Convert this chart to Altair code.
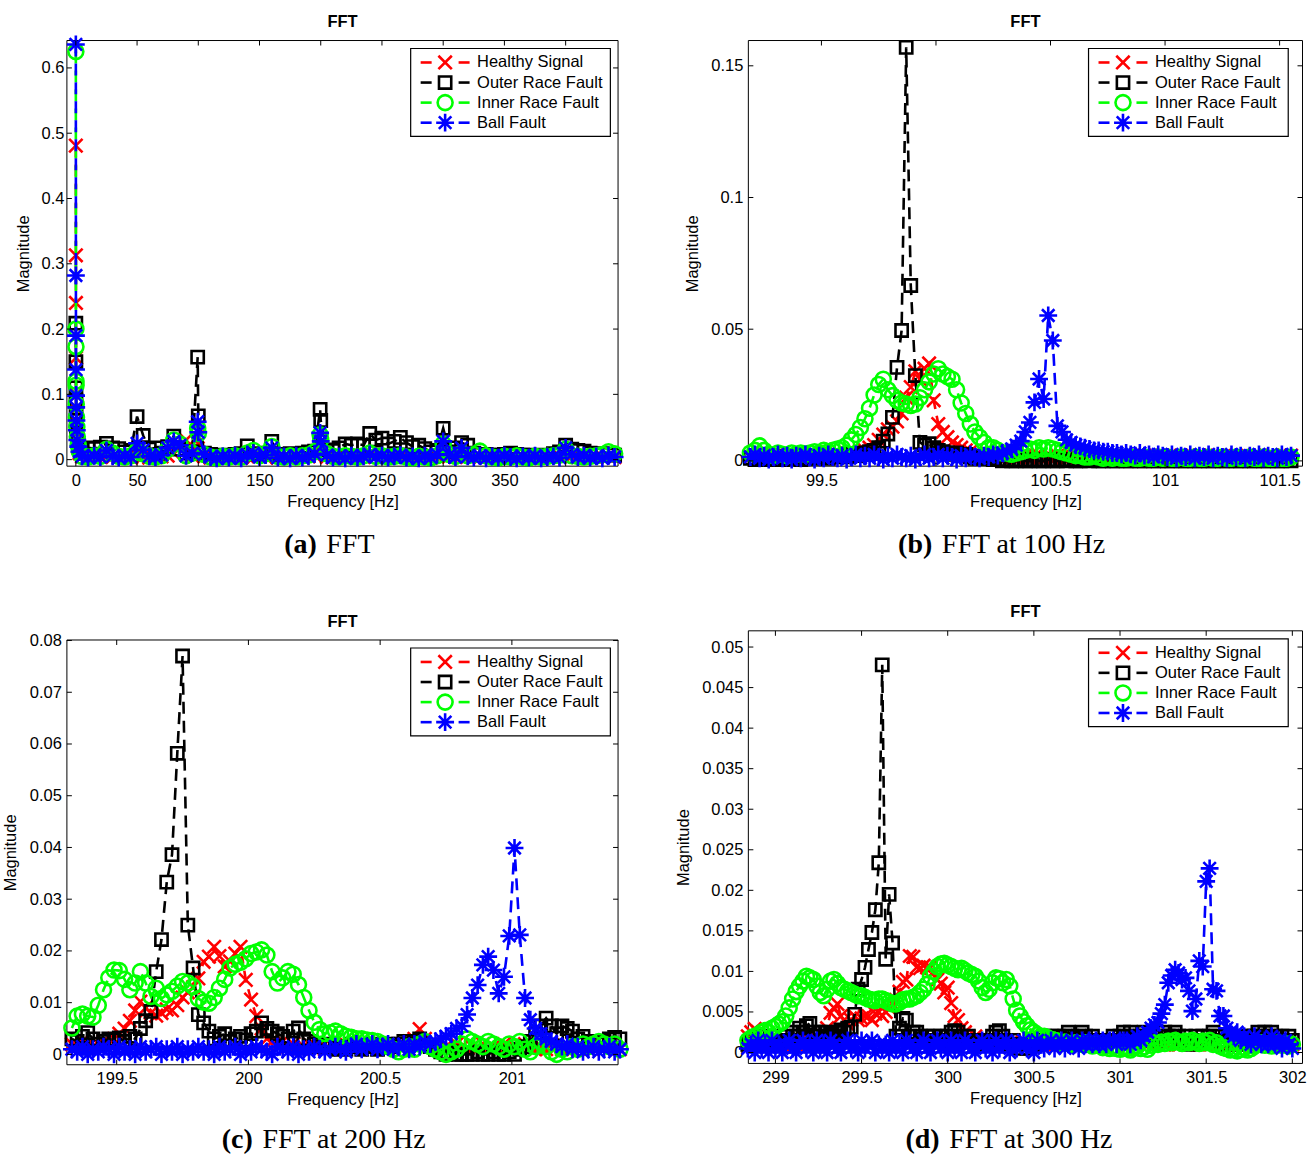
import altair as alt
import pandas as pd

# ---------------- series meta ----------------
SERIES = ["Healthy Signal", "Outer Race Fault", "Inner Race Fault", "Ball Fault"]
COLORS = ["#ff0000", "#000000", "#00ff00", "#0000ff"]
X_PATH = "M-1,-1L1,1M-1,1L1,-1"
STAR_PATH = "M0,-1L0,1M-1,0L1,0M-0.7,-0.7L0.7,0.7M-0.7,0.7L0.7,-0.7"
SHAPES = [X_PATH, "square", "circle", STAR_PATH]
SIZES = [180, 150, 225, 320]

# ---------------- panel (a): full spectrum (magnitudes in thousandths) ----------------
a_freq = [0, 0.05, 0.1, 0.15, 0.2, 0.3, 0.5, 0.8, 1.2, 2, 3,
          5, 10, 15, 20, 25, 30, 35, 40, 45, 50, 55, 60, 65, 70, 75, 80, 85, 90, 95,
          99.5, 100,
          105, 110, 115, 120, 125, 130, 135, 140, 145, 150, 155, 160, 165, 170, 175, 180, 185, 190, 195,
          199.5, 200,
          205, 210, 215, 220, 225, 230, 235, 240,
          245, 250, 255, 260, 265, 270, 275, 280,
          285, 290, 295, 300, 305, 310, 315, 320,
          325, 330, 335, 340, 345, 350, 355, 360,
          365, 370, 375, 380, 385, 390, 395, 400,
          405, 410, 415, 420, 425, 430, 435, 440]
a_healthy = [481, 313, 240, 156, 100, 78, 58, 42, 28, 18, 10,
             5, 4, 3, 5, 6, 4, 3, 4, 3, 6, 5, 3, 4, 5, 6, 10, 18, 30, 6,
             35, 25,
             5, 3, 4, 3, 4, 4, 3, 5, 4, 6, 4, 6, 3, 4, 3, 5, 4, 5, 7,
             22, 15,
             4, 3, 5, 6, 5, 6, 4, 8,
             6, 7, 5, 6, 5, 5, 4, 5,
             4, 3, 5, 14, 5, 4, 6, 5,
             4, 3, 5, 3, 4, 3, 4, 3,
             4, 3, 4, 3, 4, 3, 5, 12,
             5, 4, 3, 4, 3, 4, 5, 4]
a_outer = [209, 150, 110, 90, 70, 60, 50, 40, 30, 22, 16,
           17, 18, 17, 19, 25, 18, 17, 12, 14, 66, 37, 16, 18, 10, 20, 36, 16, 10, 12,
           157, 67,
           10, 8, 7, 6, 7, 8, 9, 21, 9, 8, 10, 28, 8, 7, 9, 8, 10, 12, 13,
           77, 60,
           15, 14, 18, 24, 22, 24, 22, 40,
           30, 33, 24, 28, 34, 26, 20, 22,
           17, 12, 14, 48, 12, 18, 26, 22,
           10, 8, 8, 7, 7, 8, 10, 8,
           7, 7, 6, 7, 6, 9, 12, 22,
           16, 14, 13, 10, 8, 9, 8, 7]
a_inner = [625, 200, 173, 120, 114, 85, 65, 50, 35, 22, 12,
           5, 4, 6, 5, 16, 10, 5, 4, 6, 14, 9, 5, 4, 6, 16, 30, 24, 6, 10,
           48, 40,
           8, 4, 3, 5, 4, 6, 4, 10, 14, 6, 9, 20, 5, 4, 6, 4, 6, 7, 12,
           38, 30,
           9, 5, 4, 6, 5, 4, 6, 10,
           5, 6, 4, 5, 6, 4, 3, 5,
           4, 3, 6, 24, 8, 5, 10, 6,
           8, 13, 6, 4, 3, 5, 4, 6,
           4, 3, 5, 4, 5, 6, 7, 16,
           6, 5, 4, 5, 6, 8, 12, 9]
a_ball = [636, 282, 190, 138, 98, 80, 60, 45, 30, 20, 12,
          5, 3, 6, 4, 14, 5, 3, 6, 4, 25, 15, 5, 4, 7, 18, 28, 22, 6, 10,
          58, 42,
          8, 4, 2, 5, 3, 6, 2, 8, 10, 4, 7, 18, 3, 5, 2, 6, 3, 5, 9,
          41, 28,
          7, 3, 5, 2, 6, 3, 5, 8,
          4, 6, 3, 5, 7, 3, 5, 2,
          6, 3, 8, 28, 7, 4, 18, 5,
          3, 6, 2, 5, 3, 6, 4, 2,
          5, 3, 6, 2, 4, 5, 3, 18,
          8, 4, 6, 3, 5, 2, 6, 4]

# ---------------- panel (b): around 100 Hz (bins of 0.02 Hz from 99.19) ----------------
b_freq = [round(99.19 + 0.02 * k, 2) for k in range(119)]
b_healthy = [1.5, 2, 1, 2.5, 1.5, 2, 1, 1.5, 2, 1,
             2, 1.5, 1, 2, 2.5, 1.5, 2, 1, 2, 2.5,
             2, 3, 2.5, 3, 3.5, 4, 5, 6, 8, 10,
             12, 13, 15, 18, 24, 28, 34, 31, 35, 37,
             23, 14, 11, 9, 7, 6, 5, 4, 3.5, 3,
             2.5, 2, 2.5, 1.5, 2, 1, 1.5, 2, 1, 1.5,
             2, 1, 1.5, 2, 1, 1.5, 1, 2, 1.5, 1,
             1.5, 2, 1, 1.5, 2, 1, 1.5, 1, 2, 1.5,
             1, 1.5, 2, 1, 1.5, 1, 2, 1.5, 1, 1.5,
             2, 1, 1.5, 1, 2, 1.5, 1, 1.5, 2, 1,
             1.5, 1, 2, 1.5, 1, 1.5, 2, 1, 1.5, 1,
             2, 1.5, 1, 1.5, 2, 1, 1.5, 1, 2]
b_outer = [1, 0.5, 1.5, 1, 0.5, 1, 1.5, 0.5, 1, 1.5,
           1, 0.5, 1, 1.5, 1, 2, 1.5, 1, 2, 1.5,
           2, 1.5, 2.5, 2, 3, 2.5, 3.5, 4, 5, 7.5,
           10.2, 16.5, 35.5, 49.5, 157, 66.6, 32.4, 7, 6, 6.5,
           5, 4, 3.5, 3, 2.5, 3, 2, 2.5, 1.5, 1,
           1, 1.5, 1, 0.5, 0.5, 0, 0.5, 0, 0, 0.5,
           0, 0, 0.5, 0, 0, 0.5, 0, 0, 0.5, 0,
           0.5, 0, 0, 0.5, 0, 0.5, 0, 0, 0.5, 0,
           0, 0.5, 0, 0, 0.5, 0, 0, 0.5, 0, 0,
           0.5, 0, 0, 0.5, 0, 0, 0.5, 0, 0, 0.5,
           0, 0, 0.5, 0, 0, 0.5, 0, 0, 0.5, 0,
           0, 0.5, 0, 0, 0.5, 0, 0, 0.5, 0]
b_inner = [3, 4, 5.7, 4, 2.5, 2, 3, 2.5, 2, 3,
           2.5, 3, 2.5, 3, 3.5, 3, 4, 3.5, 4, 4.5,
           5, 6, 8, 10, 12.7, 16, 20, 25, 29, 31,
           27, 24.8, 23, 22, 21.6, 21, 21.6, 24, 27, 30,
           33, 35, 33, 32, 31, 27, 22, 18, 14, 11,
           9, 7, 5, 5, 4, 3, 3, 2.5, 3, 3.5,
           4, 4.5, 4, 5, 4.5, 5, 4.5, 4, 3.5, 3,
           2.5, 2, 2, 1.5, 1.5, 2, 1.5, 1, 1.5, 1,
           1.5, 1, 1, 1.5, 1, 1, 1.5, 1, 1, 1.5,
           1, 1.5, 1, 1, 1.5, 1, 1, 1.5, 1, 1,
           1.5, 1, 1, 1.5, 1, 1, 1.5, 1, 1, 1.5,
           1, 1, 1.5, 1, 1, 1.5, 1, 1, 1.5]
b_ball = [1.5, 2.5, 1, 2, 0.5, 1.5, 2.5, 1, 2, 0.5,
          2, 1, 2.5, 1.5, 0.5, 2, 1, 2.5, 1.5, 1,
          2, 0.5, 1.5, 2.5, 1, 2, 1, 2.5, 1.5, 0.5,
          2, 1, 2.5, 1.5, 1, 2, 0.5, 1.5, 2.5, 1,
          1.5, 2.5, 1, 2, 1.5, 0.5, 2, 1, 2.5, 1.5,
          1, 2, 1.5, 2.5, 2, 3, 3.5, 4.5, 6, 7.5,
          11, 14.6, 22.2, 31.1, 23.5, 55.2, 45.7, 13.3, 11, 8,
          7, 6, 5.5, 5, 4.5, 4, 4, 3.5, 3.5, 3,
          3, 2.5, 3, 2.5, 2, 3, 2, 2.5, 1.5, 2.5,
          2, 1.5, 2.5, 1, 2, 1.5, 2.5, 1, 2, 1.5,
          2.5, 1, 2, 1.5, 1, 2.5, 1.5, 2, 1, 2,
          1.5, 2.5, 1, 2, 1.5, 1, 2.5, 1.5, 2]

# ---------------- panel (c): around 200 Hz (bins of 0.02 Hz from 199.33) ----------------
c_freq = [round(199.33 + 0.02 * k, 2) for k in range(105)]
c_healthy = [2, 1.5, 2.5, 2, 1.5, 2, 2.5, 2, 3, 4,
             5, 6.5, 8.5, 10.2, 9, 8, 7.5, 8, 8.7, 8.5,
             9.5, 11, 12, 13, 14.7, 17.9, 18.9, 20.8, 19, 17,
             18, 19.5, 20.8, 14.4, 10.6, 7.4, 5, 3, 2.5, 2,
             2.5, 1.5, 2, 1, 1.5, 2, 1, 1.5, 1, 2,
             1.5, 1, 2, 1.5, 1, 2, 1.5, 1, 2, 1.5,
             1, 2, 1.5, 2, 2.5, 3, 4.9, 3, 2, 1.5,
             1, 1.5, 1, 2, 1.5, 1, 1.5, 1, 2, 1,
             1.5, 1, 2, 1, 1.5, 1, 2, 1.5, 1, 1.5,
             1, 2, 1.5, 1, 1.5, 2, 1, 1.5, 1, 2,
             1.5, 1, 2, 1.5, 1]
c_outer = [3, 2.5, 3.5, 4.2, 3, 2, 2.5, 3, 2.8, 3.2,
           2.5, 3.5, 3, 5, 6.5, 8.3, 16, 22.2, 33.3, 38.6,
           58.2, 77, 25, 16.7, 7.7, 6.1, 4.5, 3, 3.5, 4,
           2.5, 3, 3.5, 2.8, 4, 4.5, 6.1, 5, 4.5, 4,
           3.5, 3, 4.5, 5.1, 3, 2.5, 2, 1.5, 2, 1.5,
           1, 1.5, 1, 2, 1.5, 1, 1.5, 2, 1, 1.5,
           2, 1.5, 2, 2.5, 2, 2.5, 3, 2, 1.5, 1,
           0.5, 0, 0.5, 0, 0, 0, 0, 0.5, 0, 0,
           0.5, 0, 0, 0.5, 0, 1, 1.5, 2.5, 4, 5.5,
           7, 5.5, 4, 5.5, 5, 4.5, 3, 3.5, 2.5, 2,
           2, 2.5, 3, 3.3, 3]
c_inner = [5.1, 7.4, 7.8, 7.4, 7.2, 9.5, 12.5, 14.8, 16.3, 16.2,
           14.5, 12.5, 13.8, 16, 13.8, 11.2, 12.8, 10.8, 11.5, 12.2,
           13.2, 14.1, 13.8, 13.1, 10.8, 10.1, 9.9, 11, 12.8, 14.5,
           16.7, 17.4, 17.8, 18.5, 19.5, 19.8, 20.2, 19.2, 16, 13.8,
           14.8, 16, 15.5, 13.5, 11, 8.5, 6.2, 4.8, 4, 4.2,
           4.5, 4, 3.5, 3.3, 3, 3, 2.8, 2.7, 2.5, 2,
           1.5, 1, 0.5, 1, 1.5, 1, 2, 2.5, 1.5, 1,
           0.5, 0, 0.5, 1, 2, 3, 2.5, 2, 1.5, 2.5,
           2, 1.5, 1, 2, 1.5, 2.5, 1, 0.5, 1.5, 2.5,
           1.5, 0.5, 0, 1, 0.5, 1.5, 1, 2, 1.5, 2,
           2.5, 2, 1.5, 2, 1]
c_ball = [1, 0.5, 1.5, 0, 1, 0.5, 1.5, 1, 0, 1.5,
          0.5, 1, 0, 1.5, 0.5, 1, 1.5, 0, 1, 0.5,
          1.5, 0, 1, 0.5, 1.5, 0.5, 1, 0, 1.5, 0.5,
          1, 1.5, 0, 1, 0.5, 1.5, 1, 0.5, 0, 1.5,
          1, 0.5, 1.5, 0, 1, 0.5, 1.5, 1, 0.5, 1,
          1.5, 1, 0.5, 1.5, 2, 1, 1.5, 2, 1, 1.5,
          2, 1, 1.5, 2, 1, 2, 1.5, 2.5, 2, 2.5,
          3, 3.5, 4, 5, 5.5, 7.7, 10.9, 13.4, 17.3, 18.9,
          16.3, 11.8, 15, 22.9, 39.9, 23.1, 10.9, 6.7, 5, 4,
          3, 2.5, 2, 1.5, 2, 1, 1.5, 0.5, 1, 1.5,
          0.5, 1, 1.5, 0.5, 1]

# ---------------- panel (d): around 300 Hz (bins of 0.02 Hz from 298.84) ----------------
d_freq = [round(298.84 + 0.02 * k, 2) for k in range(159)]
d_healthy = [2, 2.5, 2.9, 2.5, 2, 1.5, 1, 1.5, 1, 1.5,
             1, 1.5, 1, 1.5, 1, 1.5, 2, 1.5, 1, 1.5,
             1, 1.5, 2, 3, 4.9, 5.5, 6, 4.5, 4, 3.5,
             4, 4.5, 4, 4.2, 4.5, 4.5, 4, 4.8, 5, 4.5,
             5, 5.5, 6, 6.5, 7.5, 8.7, 9, 11.9, 11.8, 10.5,
             10.4, 10.7, 10.5, 10.5, 10, 9, 8.5, 7.4, 8, 6.1,
             4.5, 4, 3, 2.5, 2, 1.5, 2, 1.5, 1, 1.5,
             1, 1.5, 1, 1.5, 1, 1.5, 1, 1.5, 1, 1,
             1.5, 1, 1.5, 1, 1, 1.5, 1, 1.5, 1, 1,
             1.5, 1, 1, 1.5, 1, 1, 1.5, 1, 1, 1.5,
             1, 1, 1.5, 1, 1, 1.5, 1, 1, 1.5, 1,
             1, 1.5, 1, 1, 1.5, 1, 1, 1.5, 1, 1,
             1.5, 1, 1, 1.5, 1, 1, 1.5, 1, 1, 1.5,
             1, 1, 1.5, 1, 1, 1.5, 1, 1, 1.5, 1,
             1, 1.5, 1, 1, 1.5, 1, 1, 1.5, 1, 1,
             1.5, 1, 1, 1.5, 1, 1, 1.5, 1, 1]
d_outer = [1, 1.5, 1, 2, 1.5, 1, 1.5, 2, 1.5, 1,
           1.5, 2, 1.5, 2.5, 2, 3, 2.5, 3.3, 3.6, 2.5,
           2, 2.5, 2, 2.5, 2.3, 2, 2.5, 2.8, 2.5, 3,
           3.1, 4.7, 7.8, 9, 10.5, 12.7, 14.8, 17.6, 23.4, 47.8,
           11.5, 19.5, 13.5, 2, 3, 4.2, 4, 2, 2.5, 2.5,
           2, 1.5, 2, 1.5, 2, 1.5, 2, 1.5, 2, 2.5,
           2.7, 2.5, 2, 1.5, 2, 1.5, 1, 1.5, 1, 1.5,
           1.5, 2, 2.5, 2.7, 2, 1.5, 1, 1.5, 1, 0.5,
           1, 0.5, 1, 1.5, 1, 1.5, 2, 1.5, 2, 1.5,
           2, 1.5, 2, 2.5, 2, 1.5, 2, 2.5, 2, 1.5,
           2, 1.5, 1, 1.5, 1, 1.5, 2, 1.5, 2, 2.5,
           2, 2.5, 2, 1.5, 2, 2.5, 2, 1.5, 2, 1.5,
           2, 2.5, 2, 2, 2.5, 2, 1.5, 2, 1, 1.5,
           2, 1.5, 2, 1.5, 2, 2.5, 2, 1.5, 1, 1.5,
           2, 1.5, 1, 1.5, 2, 1.5, 2, 2, 2.5, 2,
           2.5, 2, 2.5, 2, 1.5, 2, 1.5, 2, 1.5]
d_inner = [1.5, 1.8, 2, 2.2, 2.5, 2.7, 2.5, 3, 3.2, 3.5,
           3.8, 4.5, 5.5, 6.6, 7.5, 8.2, 8.8, 9.4, 9.2, 9,
           8.2, 7.4, 7, 7.8, 8.8, 9, 8.5, 8, 7.8, 7.6,
           7.4, 7.2, 7, 7, 6.8, 6.6, 6.5, 6.4, 6.6, 6.6,
           6.4, 6.2, 6, 6, 6.2, 6.5, 6.6, 6.6, 6.8, 7,
           7.4, 7.8, 8.4, 9.4, 10, 10.6, 10.9, 11, 10.8, 10.6,
           10.4, 10.2, 10.4, 10.1, 9.8, 9.6, 9.4, 8.8, 8, 7.4,
           7.8, 8.6, 9.2, 9.1, 8.6, 9, 8.2, 6.6, 5.2, 4.5,
           3.8, 3.3, 2.8, 2.5, 2.2, 2, 2, 1.8, 1.6, 1.5,
           1.4, 1.2, 1.3, 1.1, 1, 1.2, 1.1, 1, 1.2, 1,
           0.8, 1, 0.9, 0.6, 0.8, 0.5, 0.7, 0.5, 0.4, 0.6,
           0.5, 0.3, 0.6, 0.8, 0.5, 0.7, 0.4, 0.9, 1.2, 1,
           1.3, 1.1, 1.4, 1.2, 1.5, 1.3, 1.1, 1.4, 1.2, 1.5,
           1.3, 1.1, 1.4, 1.2, 1.5, 1, 1.2, 0.8, 0.6, 0.5,
           0.3, 0.5, 0.2, 0.4, 0.6, 0.3, 0.5, 0.8, 1, 1.2,
           0.9, 1.1, 0.8, 1, 1.2, 0.9, 1.1, 0.8, 1]
d_ball = [0.5, 1, 0, 1.5, 0.5, 1, 0, 1.5, 0.5, 1,
          0, 1, 1.5, 0.5, 0, 1, 1.5, 0.5, 1, 0,
          1.5, 0.5, 1, 0, 1.5, 1, 0.5, 0, 1, 1.5,
          0.5, 1, 0, 1.5, 0.5, 1, 1.5, 0, 1, 0.5,
          1, 0, 1.5, 0.5, 1, 0, 1.5, 1, 0.5, 0,
          1, 1.5, 0.5, 0, 1, 1.5, 0.5, 1, 0, 1.5,
          0.5, 1, 0, 1.5, 1, 0.5, 0, 1, 1.5, 0.5,
          1, 0, 1.5, 0.5, 1, 1.5, 0, 1, 0.5, 1,
          1.5, 0.5, 1, 0, 1.5, 1, 0.5, 1, 1.5, 0.5,
          1, 1.5, 0.5, 1, 1.5, 1, 0.5, 1.5, 1, 1.5,
          1, 1.5, 1, 1.5, 1, 1.5, 1.5, 1, 1.5, 1.5,
          1.5, 1, 1.5, 2, 1.5, 2, 2.5, 3, 3.4, 3.7,
          4.8, 5.9, 8.6, 9.5, 10.2, 9.8, 9, 9.2, 7.6, 5.1,
          6.6, 11.3, 10.6, 21.1, 22.7, 7.8, 7.6, 4.5, 4.5, 3,
          2.5, 2, 2.5, 1.5, 2, 1.5, 1, 2, 1.5, 1,
          1.5, 1, 2, 1, 1.5, 0.5, 1.5, 1, 0.5]

# ---------------- tick values ----------------
a_xticks = [0, 50, 100, 150, 200, 250, 300, 350, 400]
a_yticks = [0, 0.1, 0.2, 0.3, 0.4, 0.5, 0.6]
b_xticks = [99.5, 100, 100.5, 101, 101.5]
b_yticks = [0, 0.05, 0.1, 0.15]
c_xticks = [199.5, 200, 200.5, 201]
c_yticks = [0, 0.01, 0.02, 0.03, 0.04, 0.05, 0.06, 0.07, 0.08]
d_xticks = [299, 299.5, 300, 300.5, 301, 301.5, 302]
d_yticks = [0, 0.005, 0.01, 0.015, 0.02, 0.025, 0.03, 0.035, 0.04, 0.045, 0.05]

SANS = "Liberation Sans"
SERIF = "Liberation Serif"
FS = 16.5
LW = 2.6
DASH = [12, 7]


def one():
    return pd.DataFrame({"k": [0]})


def make_panel(freq, vals, xdom, ydom, xticks, yticks, W, H, top_off, leg_gap,
               ytitle_x, ylab_pad, cap_tag, cap_text, cap_split, cap_dy):
    for v in vals:
        assert len(v) == len(freq), (len(v), len(freq))
    GH = H + top_off  # group height (frame sits at top_off .. GH)
    X = alt.X("freq:Q",
              scale=alt.Scale(domain=xdom, nice=False, zero=False),
              axis=alt.Axis(values=xticks, format="~f", title="Frequency [Hz]",
                            titleFont=SANS, titleFontSize=FS, titleFontWeight="normal",
                            titleColor="black", titleBaseline="alphabetic", titleY=40,
                            labelFont=SANS, labelFontSize=FS, labelColor="black",
                            labelPadding=6, labelFlush=False, labelOverlap=False,
                            ticks=False, tickSize=0, domain=False, grid=False))
    Y = alt.Y("mag:Q",
              scale=alt.Scale(domain=ydom, nice=False, zero=False, range=[GH, top_off]),
              axis=alt.Axis(values=yticks, format="~f", title="Magnitude",
                            titleFont=SANS, titleFontSize=FS, titleFontWeight="normal",
                            titleColor="black", titleBaseline="alphabetic", titleX=ytitle_x,
                            titleY=top_off + H / 2,
                            labelFont=SANS, labelFontSize=FS, labelColor="black",
                            labelPadding=ylab_pad, labelOverlap=False,
                            ticks=False, tickSize=0, domain=False, grid=False))
    layers = []
    # axes frame
    layers.append(alt.Chart(one()).mark_rect(fill="white", stroke="black", strokeWidth=1)
                  .encode(x=alt.value(0), x2=alt.value(W), y=alt.value(top_off), y2=alt.value(GH)))
    for i, name in enumerate(SERIES):
        df = pd.DataFrame({"freq": freq, "mag": [m / 1000.0 for m in vals[i]]})
        base = alt.Chart(df)
        layers.append(base.mark_line(color=COLORS[i], strokeWidth=LW, strokeDash=DASH)
                      .encode(x=X, y=Y))
        layers.append(base.mark_point(shape=SHAPES[i], color=COLORS[i], size=SIZES[i],
                                      filled=False, strokeWidth=LW, opacity=1)
                      .encode(x=X, y=Y))
    # inward ticks on all four sides
    xt = pd.DataFrame({"freq": xticks})
    yt = pd.DataFrame({"mag": yticks})
    layers.append(alt.Chart(xt).mark_rule(color="black", strokeWidth=1)
                  .encode(x=X, y=alt.value(GH), y2=alt.value(GH - 5)))
    layers.append(alt.Chart(xt).mark_rule(color="black", strokeWidth=1)
                  .encode(x=X, y=alt.value(top_off), y2=alt.value(top_off + 5)))
    layers.append(alt.Chart(yt).mark_rule(color="black", strokeWidth=1)
                  .encode(y=Y, x=alt.value(0), x2=alt.value(5)))
    layers.append(alt.Chart(yt).mark_rule(color="black", strokeWidth=1)
                  .encode(y=Y, x=alt.value(W), x2=alt.value(W - 5)))
    # legend box
    bl = W - leg_gap - 200
    bt = top_off + 8
    layers.append(alt.Chart(one()).mark_rect(fill="white", stroke="black", strokeWidth=1.2)
                  .encode(x=alt.value(bl), x2=alt.value(bl + 200),
                          y=alt.value(bt), y2=alt.value(bt + 88)))
    for i, name in enumerate(SERIES):
        yy = bt + 14 + 20.1 * i
        layers.append(alt.Chart(one()).mark_rule(color=COLORS[i], strokeWidth=LW)
                      .encode(x=alt.value(bl + 10), x2=alt.value(bl + 21), y=alt.value(yy)))
        layers.append(alt.Chart(one()).mark_rule(color=COLORS[i], strokeWidth=LW)
                      .encode(x=alt.value(bl + 48), x2=alt.value(bl + 59), y=alt.value(yy)))
        layers.append(alt.Chart(one()).mark_point(shape=SHAPES[i], color=COLORS[i], size=SIZES[i],
                                                  filled=False, strokeWidth=LW, opacity=1)
                      .encode(x=alt.value(bl + 34.5), y=alt.value(yy)))
        layers.append(alt.Chart(one()).mark_text(align="left", baseline="middle", font=SANS,
                                                 fontSize=FS, color="black")
                      .encode(x=alt.value(bl + 66.5), y=alt.value(yy), text=alt.value(name)))
    # panel title
    layers.append(alt.Chart(one()).mark_text(align="center", baseline="alphabetic", font=SANS,
                                             fontSize=FS, fontWeight="bold", color="black")
                  .encode(x=alt.value(W / 2), y=alt.value(top_off - 13.4), text=alt.value("FFT")))
    # caption below the panel
    cy = GH + cap_dy
    layers.append(alt.Chart(one()).mark_text(align="right", baseline="alphabetic", font=SERIF,
                                             fontSize=28, fontWeight="bold", color="black")
                  .encode(x=alt.value(cap_split - 4.8), y=alt.value(cy), text=alt.value(cap_tag)))
    layers.append(alt.Chart(one()).mark_text(align="left", baseline="alphabetic", font=SERIF,
                                             fontSize=28, color="black")
                  .encode(x=alt.value(cap_split + 4.8), y=alt.value(cy), text=alt.value(cap_text)))
    return alt.layer(*layers).properties(width=W, height=GH)


A = make_panel(a_freq, [a_healthy, a_outer, a_inner, a_ball], [-7.3, 442.8], [-0.01, 0.642],
               a_xticks, a_yticks, 552, 426.3, 0, 7.7, -38, 3, "(a)", "FFT", 255, 87)
B = make_panel(b_freq, [b_healthy, b_outer, b_inner, b_ball], [99.181, 101.6], [-0.002, 0.1596],
               b_xticks, b_yticks, 555, 426.3, 0, 14.3, -50.7, 5.5, "(b)", "FFT at 100 Hz", 189, 87)
C = make_panel(c_freq, [c_healthy, c_outer, c_inner, c_ball], [199.311, 201.403], [-0.002, 0.0801],
               c_xticks, c_yticks, 552, 425.4, 9.2, 7.7, -51, 5.5, "(c)", "FFT at 200 Hz", 191, 83.5)
D = make_panel(d_freq, [d_healthy, d_outer, d_inner, d_ball], [298.843, 302.059], [-0.00135, 0.052],
               d_xticks, d_yticks, 555, 433.3, 0, 14.3, -59.6, 5.5, "(d)", "FFT at 300 Hz", 196.4, 84.5)

chart = (alt.concat(A, B, C, D, columns=2, bounds="flush", align="each",
                    spacing=alt.RowColnumber(row=164.2, column=130.5))
         .properties(padding={"left": 2, "top": 12.7, "right": 0, "bottom": 0}, background="white")
         .configure_view(stroke="transparent"))

chart.save("out.html", embed_options={"renderer": "svg", "actions": False})
